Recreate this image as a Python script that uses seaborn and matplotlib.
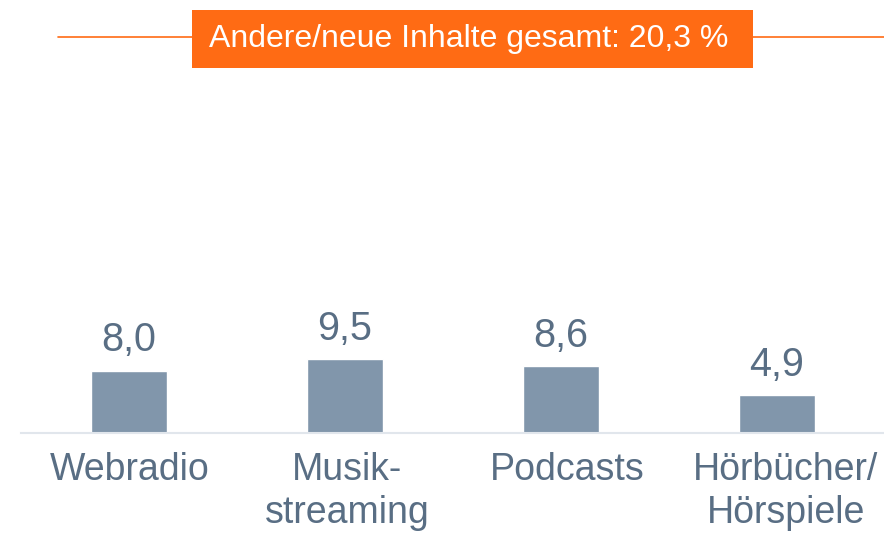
import matplotlib
matplotlib.use("Agg")
import matplotlib.pyplot as plt
import matplotlib.transforms as mtransforms
import seaborn as sns
import pandas as pd

# Data
categories = ["Webradio", "Musik-\nstreaming", "Podcasts", "Hörbücher/\nHörspiele"]
values = [8.0, 9.5, 8.6, 4.9]
headline = "Andere/neue Inhalte gesamt: 20,3 %"

BAR_COLOR = "#8196ab"
TEXT_COLOR = "#596e84"
ORANGE = "#ff6b14"
BASE_COLOR = "#e1e6ec"

sns.set_theme(style="white")
plt.rcParams["font.family"] = ["Liberation Sans", "DejaVu Sans"]

W, H = 884, 534
fig = plt.figure(figsize=(W / 100, H / 100), dpi=100)

# Axes placed in pixel units: baseline at y=433, plot spans x=21..884
left_px, right_px = 21, 884
base_px, top_px = 433, 80
ax = fig.add_axes([left_px / W, (H - base_px) / H,
                   (right_px - left_px) / W, (base_px - top_px) / H])

df = pd.DataFrame({"Kategorie": categories, "Wert": values})
sns.barplot(data=df, x="Kategorie", y="Wert", ax=ax, color=BAR_COLOR,
            width=0.352, saturation=1, errorbar=None)

px_per_unit = 7.8
ax.set_ylim(0, (base_px - top_px) / px_per_unit)
step = 216
ax.set_xlim(-(129 - left_px) / step, 3 + (right_px - 777) / step)

ax.bar_label(ax.containers[0], labels=[f"{v:.1f}".replace(".", ",") for v in values],
             padding=8, fontsize=28.5, color=TEXT_COLOR)

for s in ["top", "right", "left"]:
    ax.spines[s].set_visible(False)
ax.spines["bottom"].set_color(BASE_COLOR)
ax.spines["bottom"].set_linewidth(1.5)
ax.set_yticks([])
ax.set_xlabel("")
ax.set_ylabel("")
ax.tick_params(axis="x", length=0, pad=14, labelsize=27, labelcolor=TEXT_COLOR)

# category text boxes sit slightly right of their bars
label_shift_px = [1, 2, 6, 9]
for t, dx in zip(ax.get_xticklabels(), label_shift_px):
    t.set_linespacing(1.22)
    t.set_transform(t.get_transform() +
                    mtransforms.ScaledTranslation(dx / 100, 0, fig.dpi_scale_trans))

# Headline banner with rule
fig.add_artist(plt.Line2D([58 / W, 1.0], [(H - 37) / H] * 2, color=ORANGE, lw=1.2))
box_l, box_r, box_t, box_b = 192, 753, 10, 68
fig.add_artist(plt.Rectangle((box_l / W, (H - box_b) / H), (box_r - box_l) / W,
                             (box_b - box_t) / H, color=ORANGE, lw=0, zorder=5))
fig.text(((box_l + box_r) / 2 - 4) / W, (H - (box_t + box_b) / 2) / H, headline,
         ha="center", va="center", color="white", fontsize=23, zorder=6)

fig.savefig("out.png", dpi=100, facecolor="white")
